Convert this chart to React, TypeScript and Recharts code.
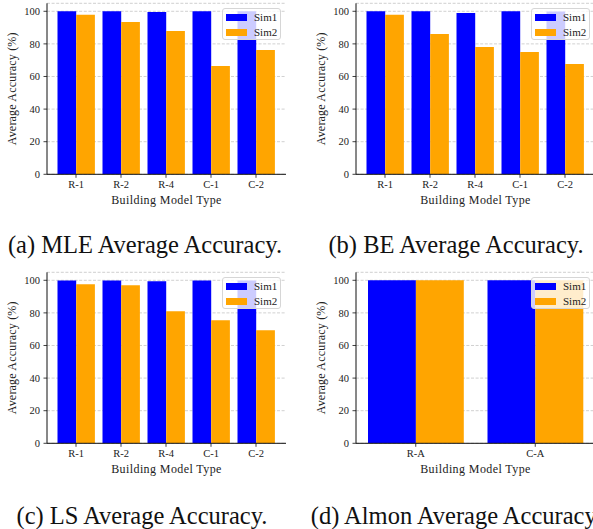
import React from 'react';
import { BarChart, Bar, XAxis, YAxis, CartesianGrid } from 'recharts';

const modelTypes = ['R-1', 'R-2', 'R-4', 'C-1', 'C-2'];
const almonTypes = ['R-A', 'C-A'];

const mleSim1 = [100, 100, 99.5, 100, 100];
const mleSim2 = [97.8, 93.5, 87.9, 66.5, 76.3];
const beSim1 = [100, 100, 99.0, 100, 99.8];
const beSim2 = [97.8, 86.1, 78.1, 75.1, 67.7];
const lsSim1 = [99.8, 99.8, 99.4, 99.8, 99.8];
const lsSim2 = [97.5, 96.9, 81.0, 75.5, 69.3];
const almonSim1 = [100, 100];
const almonSim2 = [100, 100];

const yTicks = [0, 20, 40, 60, 80, 100];
const seriesNames = ['Sim1', 'Sim2'];
const xTitle = 'Building Model Type';
const yTitle = 'Average Accuracy (%)';
const captionA = '(a) MLE Average Accuracy.';
const captionB = '(b) BE Average Accuracy.';
const captionC = '(c) LS Average Accuracy.';
const captionD = '(d) Almon Average Accuracy.';

const FONT = "'Liberation Serif', serif";
const BLUE = '#0000ff';
const ORANGE = '#ffa500';

function buildRows(cats: string[], s1: number[], s2: number[]) {
  return cats.map((c, i) => ({ name: c, Sim1: s1[i], Sim2: s2[i] }));
}

const XLabel = (props: any) => {
  const vb = props.viewBox || {};
  return (
    <text
      x={vb.x + vb.width / 2}
      y={vb.y + 26}
      textAnchor="middle"
      dominantBaseline="central"
      style={{ fontFamily: FONT, fontSize: 12, letterSpacing: 0.4 }}
      fill="#222"
    >
      {xTitle}
    </text>
  );
};

const YLabel = (props: any) => {
  const vb = props.viewBox || {};
  const cx = vb.x + 12;
  const cy = vb.y + vb.height / 2;
  return (
    <text
      x={cx}
      y={cy}
      transform={`rotate(-90 ${cx} ${cy})`}
      textAnchor="middle"
      dominantBaseline="central"
      style={{ fontFamily: FONT, fontSize: 12, letterSpacing: 0.2 }}
      fill="#222"
    >
      {yTitle}
    </text>
  );
};

const tickStyle = { fontSize: 10.5, fill: '#222', style: { fontFamily: FONT } };

function LegendBox() {
  const row = (color: string, label: string) => (
    <div style={{ display: 'flex', alignItems: 'center', height: 15 }}>
      <div style={{ width: 21, height: 7, background: color, marginLeft: 3, marginRight: 7 }} />
      <span style={{ fontFamily: FONT, fontSize: 11, color: '#222', lineHeight: '15px' }}>{label}</span>
    </div>
  );
  return (
    <div
      style={{
        position: 'absolute',
        right: 19,
        top: 8.3,
        width: 59,
        height: 32,
        boxSizing: 'border-box',
        border: '1px solid #d6d6d6',
        borderRadius: 3,
        background: 'rgba(255,255,255,0.8)',
        paddingTop: 1,
      }}
    >
      {row(BLUE, seriesNames[0])}
      {row(ORANGE, seriesNames[1])}
    </div>
  );
}

function Panel(props: {
  cats: string[];
  s1: number[];
  s2: number[];
  left: number;
  top: number;
  pad: number[];
  barSize: number;
}) {
  const data = buildRows(props.cats, props.s1, props.s2);
  return (
    <div style={{ position: 'absolute', left: props.left, top: props.top, width: 300, height: 215 }}>
      <BarChart
        width={300}
        height={215}
        data={data}
        margin={{ top: 3.3, right: 14, bottom: 0, left: 0 }}
        barGap={0}
        barSize={props.barSize}
      >
        <CartesianGrid
          horizontal={true}
          vertical={false}
          stroke="#c4c4c4"
          strokeDasharray="3 1.6"
          strokeWidth={0.8}
        />
        <XAxis
          dataKey="name"
          type="category"
          padding={{ left: props.pad[0], right: props.pad[1] }}
          height={40.7}
          tick={tickStyle}
          tickSize={3.5}
          tickMargin={2.5}
          stroke="#111"
          axisLine={{ stroke: '#111', strokeWidth: 1 }}
          tickLine={{ stroke: '#111', strokeWidth: 0.8 }}
          interval={0}
          label={<XLabel />}
        />
        <XAxis
          xAxisId="top"
          orientation="top"
          dataKey="name"
          height={0}
          tick={false}
          tickLine={false}
          axisLine={{ stroke: '#111', strokeWidth: 1 }}
        />
        <YAxis
          type="number"
          domain={[0, 104.9]}
          ticks={yTicks}
          width={47}
          tick={tickStyle}
          tickSize={3.5}
          tickMargin={3.5}
          axisLine={{ stroke: '#111', strokeWidth: 1 }}
          tickLine={{ stroke: '#111', strokeWidth: 0.8 }}
          allowDataOverflow={true}
          label={<YLabel />}
        />
        <YAxis
          yAxisId="right"
          orientation="right"
          type="number"
          domain={[0, 104.9]}
          width={0}
          tick={false}
          tickLine={false}
          axisLine={{ stroke: '#111', strokeWidth: 1 }}
        />
        <Bar dataKey="Sim1" fill={BLUE} isAnimationActive={false} />
        <Bar dataKey="Sim2" fill={ORANGE} isAnimationActive={false} />
      </BarChart>
      <LegendBox />
    </div>
  );
}

function Caption(props: { text: string; cx: number; cy: number }) {
  return (
    <div
      style={{
        position: 'absolute',
        left: props.cx - 200,
        top: props.cy - 14,
        width: 400,
        textAlign: 'center',
        fontFamily: FONT,
        fontSize: 24.5,
        lineHeight: '28px',
        color: '#111',
        whiteSpace: 'nowrap',
      }}
    >
      {props.text}
    </div>
  );
}

export default function App() {
  return (
    <div
      style={{
        position: 'absolute',
        left: 0,
        top: 0,
        width: 593,
        height: 529,
        overflow: 'hidden',
        background: '#fff',
      }}
    >
      <Panel cats={modelTypes} s1={mleSim1} s2={mleSim2} left={0} top={0} pad={[6.5, 7.5]} barSize={18.7} />
      <Panel cats={modelTypes} s1={beSim1} s2={beSim2} left={309} top={0} pad={[6.5, 7.5]} barSize={18.7} />
      <Panel cats={modelTypes} s1={lsSim1} s2={lsSim2} left={0} top={269} pad={[6.5, 7.5]} barSize={18.7} />
      <Panel cats={almonTypes} s1={almonSim1} s2={almonSim2} left={309} top={269} pad={[0, 0]} barSize={47.9} />
      <Caption text={captionA} cx={145} cy={245} />
      <Caption text={captionB} cx={456} cy={245} />
      <Caption text={captionC} cx={142} cy={516} />
      <Caption text={captionD} cx={456} cy={516} />
    </div>
  );
}
